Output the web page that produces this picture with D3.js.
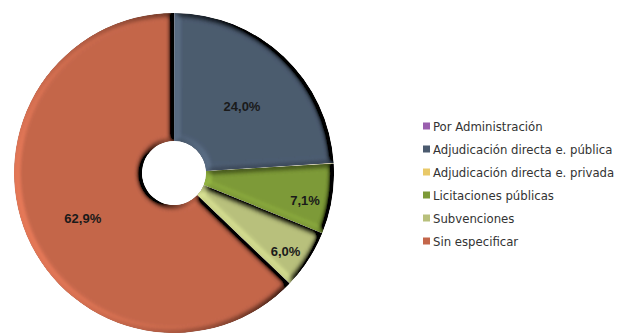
<!DOCTYPE html>
<html>
<head>
<meta charset="utf-8">
<script src="https://cdn.jsdelivr.net/npm/d3@7"></script>
<style>
html,body{margin:0;padding:0;background:#fff;}
svg{display:block;}
</style>
</head>
<body>
<svg id="chart" width="625" height="333"></svg>
<script>
const categories = ["Por Administración","Adjudicación directa e. pública","Adjudicación directa e. privada","Licitaciones públicas","Subvenciones","Sin especificar"];
const values = [0.03, 24.0, 0.03, 7.1, 6.0, 62.9];
const labels = ["", "24,0%", "", "7,1%", "6,0%", "62,9%"];
const colors = ["#9a5fae","#4b5b6f","#e9c968","#7d9a37","#b8c07c","#c4664a"];

const svg = d3.select("#chart");
const cx = 174, cy = 173, R = 160, r0 = 32;

// bevel filter
const defs = svg.append("defs");
const f = defs.append("filter").attr("id","bevel").attr("x","-10%").attr("y","-10%").attr("width","120%").attr("height","120%");
f.append("feGaussianBlur").attr("in","SourceAlpha").attr("stdDeviation",3).attr("result","blur");
const lt = f.append("feDiffuseLighting").attr("in","blur").attr("surfaceScale",7).attr("diffuseConstant",1).attr("lighting-color","#fff").attr("result","light");
lt.append("feDistantLight").attr("azimuth",165).attr("elevation",45);
f.append("feComposite").attr("in","SourceGraphic").attr("in2","light").attr("operator","arithmetic")
  .attr("k1",1.414).attr("k2",0).attr("k3",0).attr("k4",0).attr("result","lit");
f.append("feComposite").attr("in","lit").attr("in2","SourceAlpha").attr("operator","in");

const data = categories.map((c,i)=>({cat:c, value:values[i], label:labels[i], color:colors[i]}));
const pie = d3.pie().sort(null).value(d=>d.value);
const arcs = pie(data);
const arc = d3.arc().innerRadius(r0).outerRadius(R);

const g = svg.append("g").attr("transform",`translate(${cx},${cy})`);
g.selectAll("path.slice").data(arcs).enter().append("path")
  .attr("class","slice")
  .attr("d",arc)
  .attr("fill",d=>d.data.color)
  .attr("filter","url(#bevel)");

g.selectAll("text.lbl").data(arcs.filter(d=>d.data.label)).enter().append("text")
  .attr("class","lbl")
  .attr("transform",d=>{
    const frac = (d.endAngle-d.startAngle)/(2*Math.PI);
    const rr = frac < 0.1 ? R*0.83 : R*0.62;
    const a = (d.startAngle+d.endAngle)/2;
    return `translate(${Math.sin(a)*rr},${-Math.cos(a)*rr + 6})`;
  })
  .attr("text-anchor","middle").attr("dy","0.35em")
  .style("font-family","'Liberation Sans', Arial, sans-serif").style("font-weight","bold")
  .style("font-size","13px").style("fill","#1a1a1a")
  .text(d=>d.data.label);

// legend
const lx = 423, ly0 = 126, step = 23;
const lg = svg.append("g");
const items = lg.selectAll("g").data(data).enter().append("g")
  .attr("transform",(d,i)=>`translate(${lx},${ly0+i*step})`);
items.append("rect").attr("x",0).attr("y",-3.5).attr("width",7).attr("height",7).attr("fill",d=>d.color);
items.append("text").attr("x",10).attr("y",0).attr("dy","0.35em")
  .style("font-family","'Liberation Sans Narrow','DejaVu Sans Condensed','Liberation Sans',sans-serif")
  .style("font-size","13px").style("fill","#333")
  .text(d=>d.cat);
</script>
</body>
</html>
